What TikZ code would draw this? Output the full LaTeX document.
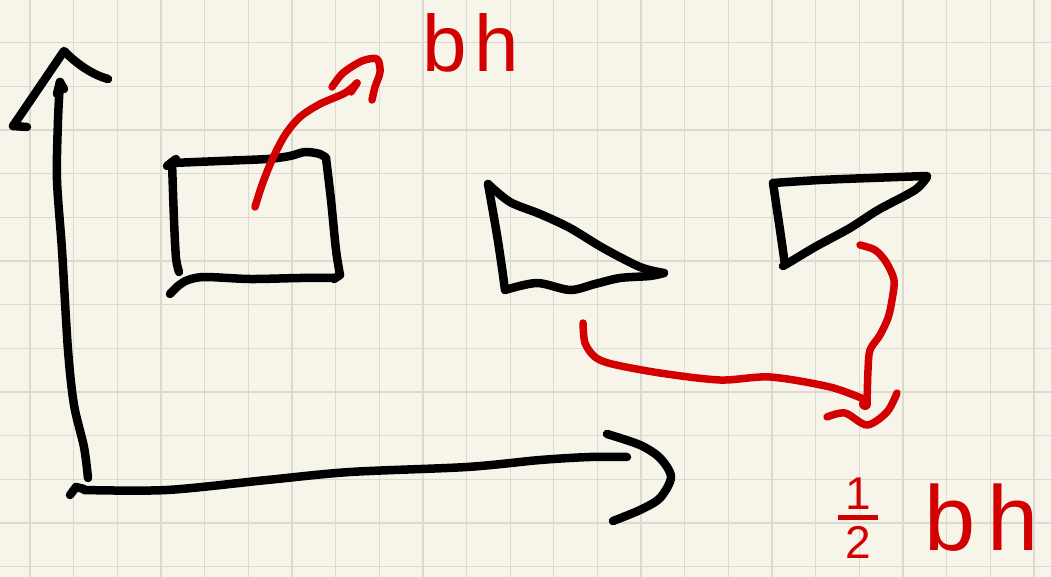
\documentclass[tikz,border=0pt]{standalone}
\usepackage{fontspec}
\setmainfont{Liberation Sans}
\definecolor{paper}{RGB}{247,245,234}
\definecolor{gridcol}{RGB}{220,218,208}
\definecolor{inkred}{RGB}{210,0,0}
\begin{document}
\begin{tikzpicture}[x=1pt,y=-1pt,
  ink/.style={line width=8.5pt,line cap=round,line join=round,draw=black},
  redink/.style={line width=7.5pt,line cap=round,line join=round,draw=inkred},
  gridline/.style={line width=1.3pt,draw=gridcol},
  redtext/.style={text=inkred,inner sep=0pt}
]
\fill[paper] (0,0) rectangle (1051,577);
\useasboundingbox (0,0) rectangle (1051,577);
\foreach \k in {0,...,23} \draw[gridline] ({30+43.65*\k},0) -- ({30+43.65*\k},577);
\foreach \k in {1,...,13} \draw[gridline] (0,{-0.9+43.65*\k}) -- (1051,{-0.9+43.65*\k});

% y axis
\draw[ink] plot[smooth] coordinates {(88,478) (84,447) (74,405) (68,350) (62,250) (57,180) (58,120) (60,82)};
\draw[ink] (57,94) -- (60,82) -- (64,89);
\draw[ink] (27,127) -- (13,126) -- (64,51) .. controls (75,62) and (90,74) .. (108,79);

% x axis
\draw[ink] (70,495) -- (76,487) -- (84,489);
\draw[ink] plot[smooth] coordinates {(84,490) (167,490) (267,480) (350,472) (467,467) (540,460) (590,457) (627,457)};
\draw[ink] plot[smooth] coordinates {(607,434) (640,445) (660,458) (671,477) (660,498) (640,510) (613,521)};

% rectangle
\draw[ink] (167,166) -- (176,159);
\draw[ink] plot[smooth] coordinates {(172,163) (220,161) (267,159) (290,156) (305,152) (320,154) (326,158)};
\draw[ink] plot[smooth] coordinates {(326,158) (331,200) (336,250) (340,275)};
\draw[ink] (340,275) -- (334,279);
\draw[ink] plot[smooth] coordinates {(335,278) (300,278) (250,279) (205,277) (188,280) (178,286) (170,294)};
\draw[ink] plot[smooth] coordinates {(172,162) (174,220) (176,258) (179,272)};

% triangle 1
\draw[ink] plot[smooth] coordinates {(488,184) (510,202) (540,214) (570,228) (603,248) (640,267) (664,273)};
\draw[ink] plot[smooth] coordinates {(664,273) (650,276) (620,278) (595,284) (570,290) (537,283) (505,290)};
\draw[ink] plot[smooth] coordinates {(505,290) (502,268) (497,235) (490,195) (488,184)};

% triangle 2
\draw[ink] plot[smooth] coordinates {(773,183) (820,180) (870,178) (927,176)};
\draw[ink] plot[smooth] coordinates {(927,177) (915,190) (878,210) (850,228) (815,247) (790,262) (783,266)};
\draw[ink] plot[smooth] coordinates {(785,265) (780,230) (773,183)};

% red arrow to bh
\draw[redink] plot[smooth] coordinates {(255,207) (262,185) (272,160) (285,135) (300,117) (320,104) (345,93) (357,83)};
\draw[redink] (357,83) -- (351,92);
\draw[redink] plot[smooth] coordinates {(332,87) (343,73) (362,61) (377,59) (380,72) (375,87) (372,100)};
\node[redtext,font=\fontsize{80}{82}\selectfont,anchor=base] (bh) at (471,72) {b\hspace{8pt}h};

% red arrows to 1/2 bh
\draw[redink] plot[smooth] coordinates {(860,245) (875,250) (886,262) (894,280) (892,300) (888,318) (880,335) (870,350) (868,370) (867,403)};
\draw[redink] plot[smooth] coordinates {(583,323) (585,343) (595,357) (612,364) (660,373) (720,380) (770,377) (830,387) (866,400)};
\fill[inkred] (865,404) circle (6pt);
\draw[redink] plot[smooth] coordinates {(827,417) (845,413) (867,425) (887,412) (897,393)};
\node[redtext,font=\fontsize{46}{46}\selectfont] (half) at (858,518) {\shortstack{1\\[2pt]\rule{40pt}{5.5pt}\\[3pt]2}};
\node[redtext,font=\fontsize{92}{94}\selectfont,anchor=base] (bh2) at (982,550) {b\hspace{12pt}h};
\end{tikzpicture}
\end{document}
